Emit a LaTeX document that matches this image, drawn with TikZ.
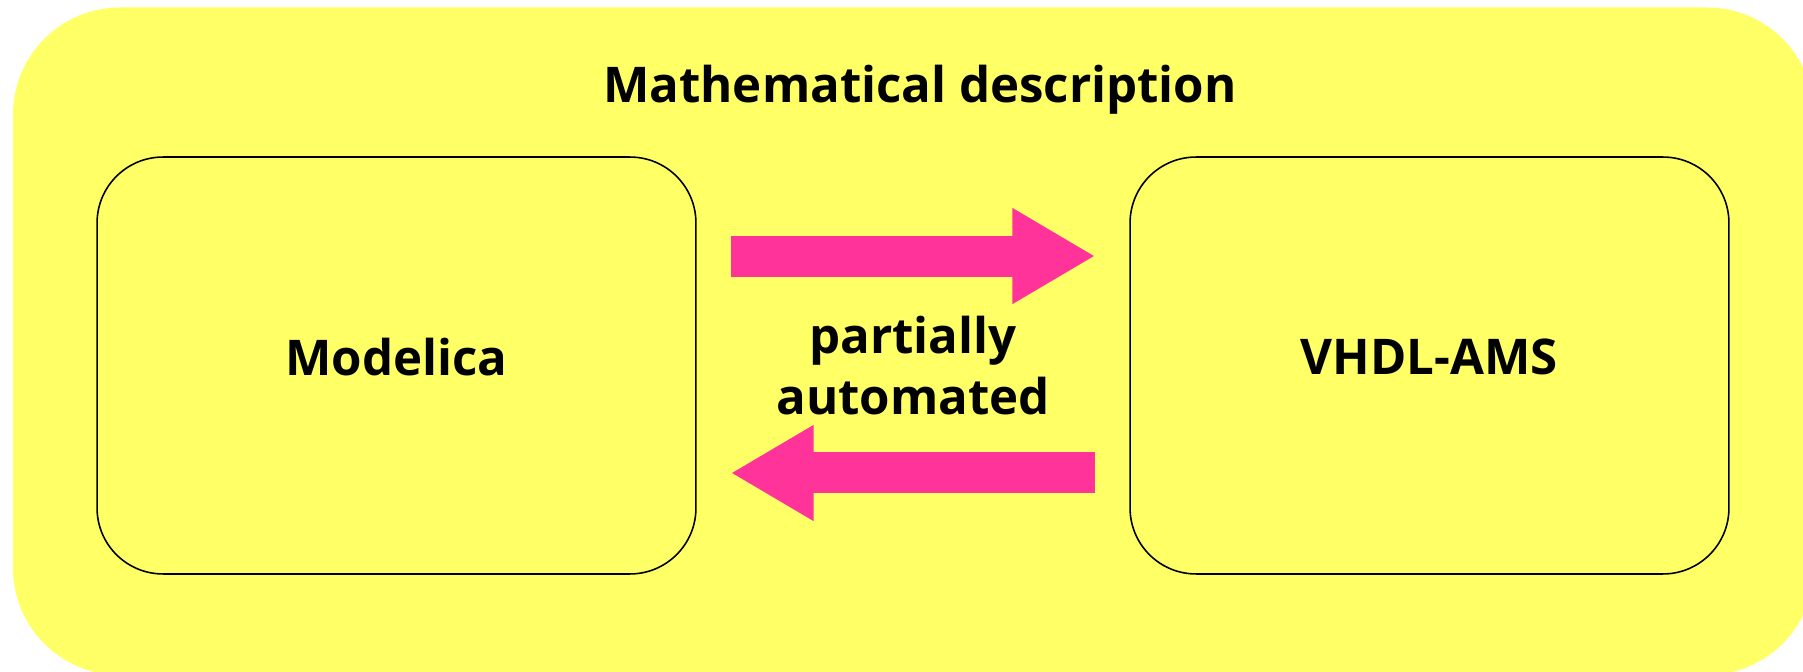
\documentclass[tikz,border=0pt]{standalone}
\usepackage{fontspec}
\setmainfont{Open Sans}
\usetikzlibrary{arrows.meta,positioning}
\definecolor{panel}{RGB}{255,255,102}
\definecolor{flow}{RGB}{255,51,153}

\begin{document}
\begin{tikzpicture}[x=0.02cm,y=-0.02cm,
  font=\fontsize{28}{35}\selectfont\bfseries,
  lang/.style={draw,line width=0.9pt,fill=panel,rounded corners=1.32cm,
    minimum width=11.98cm,minimum height=8.34cm,text depth=0.36cm},
  conv/.style={flow,line width=0.82cm,-{Triangle[length=1.66cm,width=1.8cm]},
    shorten <=0.68cm,shorten >=0.68cm}]
  \useasboundingbox (0,0) rectangle (1803,672);
  % yellow backdrop, runs off the right and bottom edge
  \fill[panel,rounded corners=2.14cm] (13,7.5) rectangle (1814,675);
  \node (title) at (920,90) {Mathematical description};
  % the two languages
  \node[lang] (modelica) at (396.5,365.5) {Modelica};
  \node[lang] (vhdl) at (1429.5,365.5) {VHDL-AMS};
  % translation both ways
  \draw[conv] ([yshift=2.19cm]modelica.east) -- ([yshift=2.19cm]vhdl.west);
  \draw[conv] ([yshift=-2.15cm]vhdl.west) -- ([yshift=-2.15cm]modelica.east);
  \path (modelica.east) -- node[align=center] (auto) {partially\\automated} (vhdl.west);
\end{tikzpicture}
\end{document}
